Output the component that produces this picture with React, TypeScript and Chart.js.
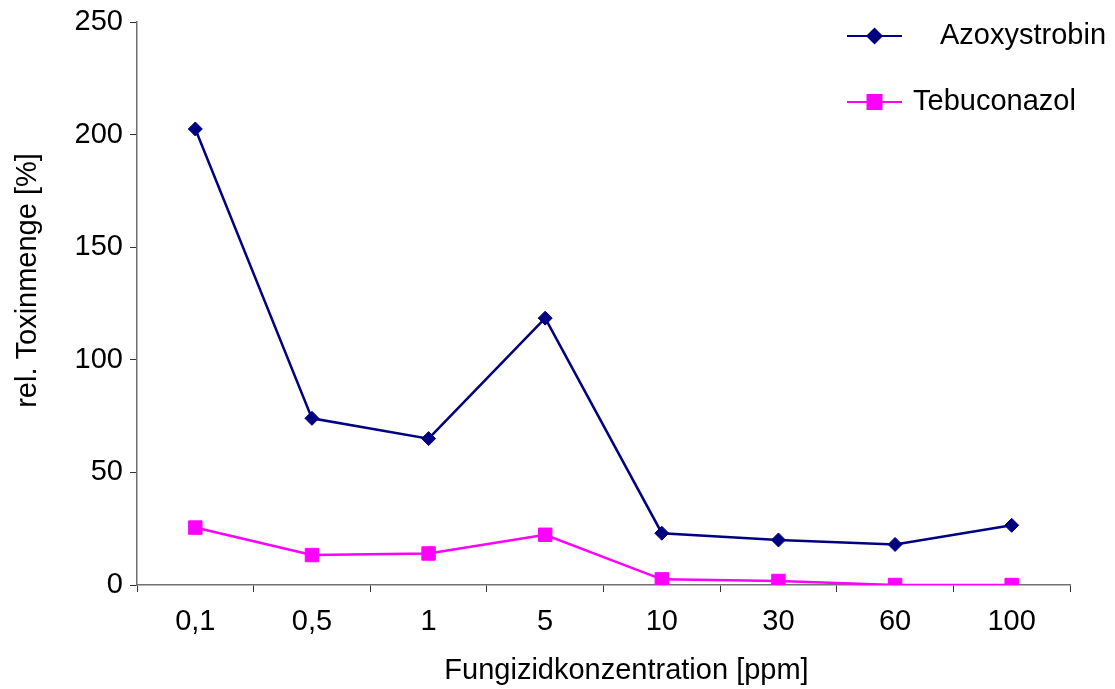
import React, { useEffect, useRef } from 'react';
import { Chart, registerables } from 'chart.js';

Chart.register(...registerables);

const categories = ['0,1', '0,5', '1', '5', '10', '30', '60', '100'];
const azoxystrobin = [202.5, 74, 65, 118.5, 23, 20, 18, 26.5];
const tebuconazol = [25.5, 13.3, 14, 22.3, 2.5, 1.8, 0, 0];
const seriesNames = ['Azoxystrobin', 'Tebuconazol'];
const xTitle = 'Fungizidkonzentration [ppm]';
const yTitle = 'rel. Toxinmenge [%]';

const FONT = '"Liberation Sans", Arial, sans-serif';
const FONT_SIZE = 29;
const NAVY = '#000080';
const MAGENTA = '#FF00FF';

const titlesAndLegend = {
  id: 'titlesAndLegend',
  afterDraw(chart: any) {
    const ctx = chart.ctx;
    const a = chart.chartArea;
    ctx.save();
    ctx.fillStyle = '#000';
    ctx.font = `${FONT_SIZE}px ${FONT}`;
    ctx.textBaseline = 'middle';
    // x title
    ctx.textAlign = 'center';
    ctx.fillText(xTitle, (a.left + a.right) / 2 + 23, a.bottom + 86);
    // y title
    ctx.save();
    ctx.translate(28, (a.top + a.bottom) / 2 - 23);
    ctx.rotate(-Math.PI / 2);
    ctx.fillText(yTitle, 0, 0);
    ctx.restore();

    // legend
    const lx0 = a.right - 223;
    const lx1 = a.right - 168;
    const mx = (lx0 + lx1) / 2;
    const rows = [
      { y: a.top + 14, color: NAVY, shape: 'diamond', text: seriesNames[0], tx: a.right - 130 },
      { y: a.top + 80, color: MAGENTA, shape: 'square', text: seriesNames[1], tx: a.right - 157 },
    ];
    rows.forEach((r) => {
      ctx.strokeStyle = r.color;
      ctx.lineWidth = 2;
      ctx.beginPath();
      ctx.moveTo(lx0, r.y);
      ctx.lineTo(lx1, r.y);
      ctx.stroke();
      ctx.fillStyle = r.color;
      ctx.beginPath();
      if (r.shape === 'diamond') {
        ctx.moveTo(mx - 8.5, r.y);
        ctx.lineTo(mx, r.y - 8.5);
        ctx.lineTo(mx + 8.5, r.y);
        ctx.lineTo(mx, r.y + 8.5);
        ctx.closePath();
      } else {
        ctx.rect(mx - 8, r.y - 8, 16, 16);
      }
      ctx.fill();
      ctx.fillStyle = '#000';
      ctx.textAlign = 'left';
      ctx.fillText(r.text, r.tx, r.y);
    });
    ctx.restore();
  },
};

export default function App() {
  const ref = useRef<HTMLCanvasElement>(null);
  useEffect(() => {
    const chart = new Chart(ref.current as HTMLCanvasElement, {
      type: 'line',
      data: {
        labels: categories,
        datasets: [
          {
            label: seriesNames[0],
            data: azoxystrobin,
            borderColor: NAVY,
            backgroundColor: NAVY,
            borderWidth: 2.5,
            pointStyle: 'rectRot',
            pointRadius: 7,
            pointBorderWidth: 1,
            tension: 0,
          },
          {
            label: seriesNames[1],
            data: tebuconazol,
            borderColor: MAGENTA,
            backgroundColor: MAGENTA,
            borderWidth: 2.5,
            pointStyle: 'rect',
            pointRadius: 9.5,
            pointBorderWidth: 1,
            tension: 0,
          },
        ],
      },
      options: {
        responsive: false,
        animation: false,
        layout: { padding: { left: 0, top: 22, right: 45, bottom: 0 } },
        plugins: { legend: { display: false }, tooltip: { enabled: false } },
        scales: {
          x: {
            offset: true,
            grid: {
              offset: true,
              drawOnChartArea: false,
              drawTicks: true,
              tickLength: 7,
              color: '#333',
            },
            border: { color: '#707070', width: 1.5 },
            ticks: {
              color: '#000',
              font: { family: FONT, size: FONT_SIZE },
              padding: 13,
              maxRotation: 0,
            },
            afterFit(scale: any) {
              scale.height = 104;
              scale.paddingLeft = 0;
              scale.paddingRight = 0;
            },
          },
          y: {
            min: 0,
            max: 250,
            grid: {
              drawOnChartArea: false,
              drawTicks: true,
              tickLength: 7,
              color: '#333',
            },
            border: { color: '#707070', width: 1.5 },
            ticks: {
              stepSize: 50,
              color: '#000',
              font: { family: FONT, size: FONT_SIZE },
              padding: 7,
            },
            afterFit(scale: any) {
              scale.width = 137;
              scale.paddingTop = 0;
              scale.paddingBottom = 0;
            },
          },
        },
      },
      plugins: [titlesAndLegend],
    } as any);
    return () => chart.destroy();
  }, []);
  return (
    <canvas
      ref={ref}
      width={1115}
      height={689}
      style={{ position: 'fixed', left: 0, top: 0, width: 1115, height: 689, background: '#fff' }}
    />
  );
}
